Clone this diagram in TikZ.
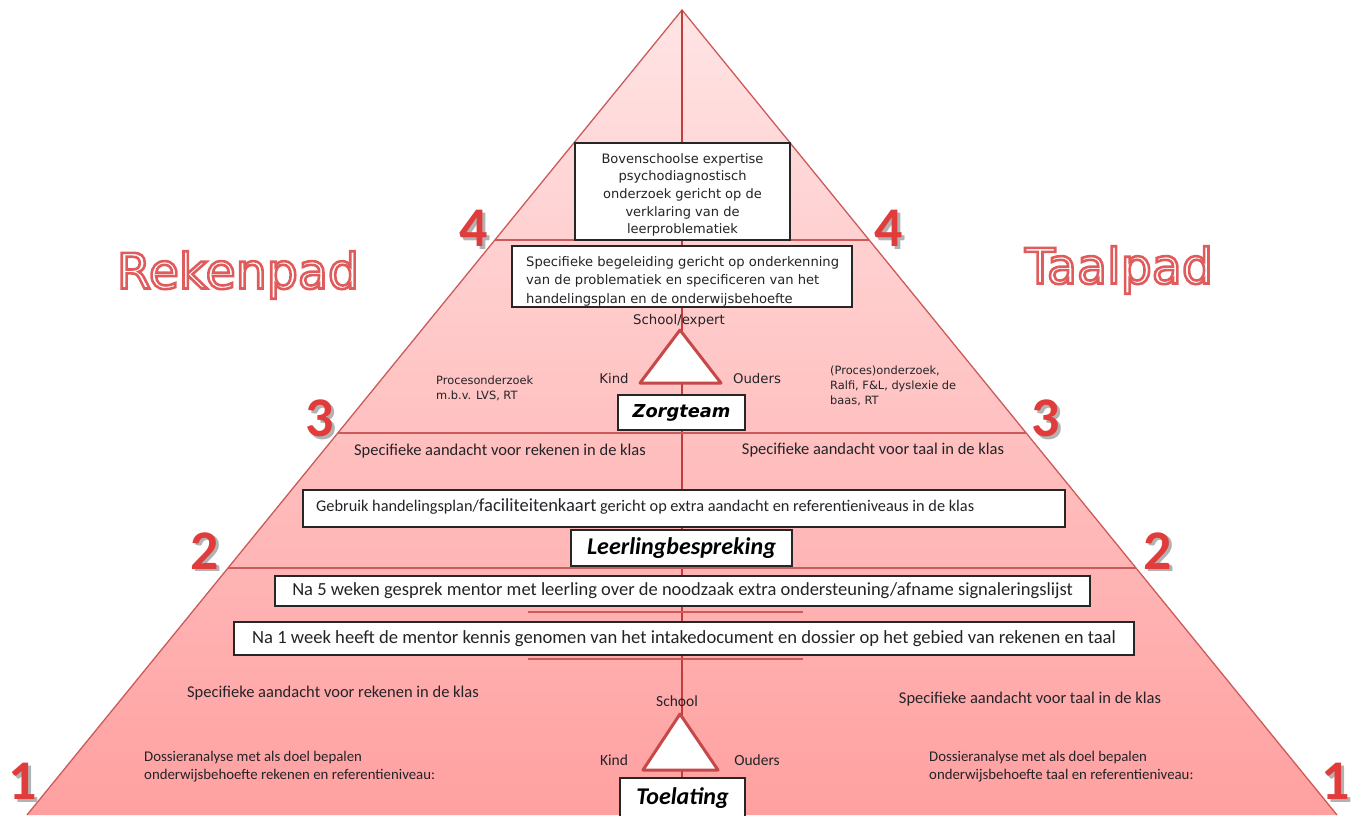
\documentclass[tikz,border=0pt]{standalone}
\usepackage{fontspec}
\setmainfont{DejaVu Sans}
\newfontfamily\calfont{Carlito}
\definecolor{pTop}{RGB}{255,228,228}
\definecolor{pBot}{RGB}{255,160,160}
\definecolor{edgered}{RGB}{205,90,90}
\definecolor{midred}{RGB}{192,62,62}
\definecolor{trired}{RGB}{198,72,72}
\definecolor{numred}{RGB}{224,60,60}
\definecolor{ink}{RGB}{35,35,40}
\newcommand\ringtext[1]{\leavevmode\textcolor{white}{\special{pdf:literal direct 0.88 0.36 0.36 RG 2 Tr 2.6 w}#1\special{pdf:literal direct 0 Tr}}}
\newcommand\bignum[1]{\leavevmode\rlap{\kern2.5pt\raisebox{-2.5pt}{\textcolor{black!30}{#1}}}\textcolor{numred}{#1}}
\begin{document}
\begin{tikzpicture}[x=1pt,y=-1pt,
  box/.style={draw=black!85, line width=1.1pt, fill=white, inner sep=0pt},
  lvl/.style={draw=edgered, line width=1.3pt},
  tri/.style={draw=trired, line width=3pt, fill=white, line join=round},
  lab/.style={inner sep=0pt, text=ink},
  dv/.style={font=\fontsize{13}{17.7}\selectfont},
  dvl/.style={font=\fontsize{13.3}{15}\selectfont},
  cal/.style={font=\calfont\fontsize{16.5}{18}\selectfont},
  num/.style={inner sep=0pt, font=\calfont\bfseries\fontsize{56}{56}\selectfont},
  pad/.style={inner sep=0pt, font=\fontsize{49}{52}\selectfont}]
\useasboundingbox (0,0) rectangle (1357,815);
% pyramid
\coordinate (apex) at (682,10);
\coordinate (bl) at (27,815);
\coordinate (br) at (1337,815);
\coordinate (bm) at (682,815);
\shade[top color=pTop, bottom color=pBot] (apex) -- (br) -- (bl) -- cycle;
\draw[edgered, line width=1.3pt] (bl) -- (apex) -- (br);
\draw[midred, line width=2pt] (apex) -- (bm);
% level lines
\coordinate (l4a) at (495,240); \coordinate (l4b) at (869,240);
\coordinate (l3a) at (338,433); \coordinate (l3b) at (1026,433);
\coordinate (l2a) at (228,568); \coordinate (l2b) at (1136,568);
\draw[lvl] (l4a) -- (l4b);
\draw[lvl] (l3a) -- (l3b);
\draw[lvl] (l2a) -- (l2b);
\coordinate (s1a) at (528,612); \coordinate (s1b) at (803,612);
\coordinate (s2a) at (528,659); \coordinate (s2b) at (803,659);
\draw[lvl, line width=1.5pt] (s1a) -- (s1b);
\draw[lvl, line width=1.5pt] (s2a) -- (s2b);
% level 4
\node[box, minimum width=215pt, minimum height=97pt] (b1) at (682.5,191.5) {};
\node[lab, align=center, dv] (b1t) at (682.5,195)
 {Bovenschoolse expertise\\psychodiagnostisch\\onderzoek gericht op de\\verklaring van de\\leerproblematiek};
\node[box, minimum width=340pt, minimum height=61pt] (b2) at (682,276.5) {};
\node[lab, anchor=west, align=left, font=\fontsize{13.1}{18.5}\selectfont] (b2t) at (526,281)
 {Specifieke begeleiding gericht op onderkenning\\van de problematiek en specificeren van het\\handelingsplan en de onderwijsbehoefte};
% level 3
\node[lab, dvl] (se) at (679,321) {School/expert};
\coordinate (t1a) at (680,330); \coordinate (t1b) at (721,383); \coordinate (t1c) at (640,383);
\draw[tri] (t1a) -- (t1b) -- (t1c) -- cycle;
\node[lab, dvl] (k1) at (614,379) {Kind};
\node[lab, dvl] (o1) at (757,379) {Ouders};
\node[box, minimum width=127pt, minimum height=35pt, font=\bfseries\itshape\fontsize{17.8}{20}\selectfont] (zt) at (681.5,412.5) {Zorgteam};
\node[lab, anchor=north west, align=left, font=\fontsize{11.4}{15}\selectfont] (po) at (436,376) {Procesonderzoek\\m.b.v. LVS, RT};
\node[lab, anchor=north west, align=left, font=\fontsize{11.4}{15}\selectfont] (pt) at (830,366) {(Proces)onderzoek,\\Ralfi, F\&L, dyslexie de\\baas, RT};
% level 2
\node[lab, cal] (r2) at (500,451) {Specifieke aandacht voor rekenen in de klas};
\node[lab, cal] (t2) at (873,450) {Specifieke aandacht voor taal in de klas};
\node[box, minimum width=762pt, minimum height=37pt] (gb) at (684,508.5) {};
\node[lab, anchor=west, font=\calfont\fontsize{16.3}{18}\selectfont] (gbt) at (316,506)
 {Gebruik handelingsplan/{\fontsize{18.5}{18}\selectfont faciliteitenkaart} gericht op extra aandacht en referentieniveaus in de klas};
\node[box, minimum width=221pt, minimum height=36pt, font=\calfont\bfseries\itshape\fontsize{24}{26}\selectfont] (lb) at (681.5,548) {Leerlingbespreking};
% level 1
\node[box, minimum width=815pt, minimum height=30pt, font=\calfont\fontsize{18.5}{20}\selectfont, text=ink] (n5) at (682.5,591)
 {Na 5 weken gesprek mentor met leerling over de noodzaak extra ondersteuning/afname signaleringslijst};
\node[box, minimum width=900pt, minimum height=33pt, font=\calfont\fontsize{18.6}{20}\selectfont, text=ink] (n1) at (684,638.5)
 {Na 1 week heeft de mentor kennis genomen van het intakedocument en dossier op het gebied van rekenen en taal};
\node[lab, cal] (r1) at (333,693) {Specifieke aandacht voor rekenen in de klas};
\node[lab, cal] (tl1) at (1030,699) {Specifieke aandacht voor taal in de klas};
\node[lab, font=\calfont\fontsize{15.5}{18}\selectfont] (sc) at (677,701) {School};
\coordinate (t2a) at (680,714); \coordinate (t2b) at (718,770); \coordinate (t2c) at (643,770);
\draw[tri] (t2a) -- (t2b) -- (t2c) -- cycle;
\node[lab, font=\calfont\fontsize{15.5}{18}\selectfont] (k2) at (614,760) {Kind};
\node[lab, font=\calfont\fontsize{15.5}{18}\selectfont] (o2) at (757,760) {Ouders};
\node[box, minimum width=125pt, minimum height=44pt, font=\calfont\bfseries\itshape\fontsize{24}{26}\selectfont] (tg) at (682.5,800) {\raisebox{7pt}{Toelating}};
\node[lab, anchor=north west, align=left, font=\calfont\fontsize{14.8}{18}\selectfont] (d1) at (144,751)
 {Dossieranalyse met als doel bepalen\\onderwijsbehoefte rekenen en referentieniveau:};
\node[lab, anchor=north west, align=left, font=\calfont\fontsize{14.8}{18}\selectfont] (d2) at (929,751)
 {Dossieranalyse met als doel bepalen\\onderwijsbehoefte taal en referentieniveau:};
% numbers
\node[num] (n4l) at (474,230) {\bignum{4}};
\node[num] (n4r) at (889,230) {\bignum{4}};
\node[num] (n3l) at (320,420) {\bignum{3}};
\node[num] (n3r) at (1046,420) {\bignum{3}};
\node[num] (n2l) at (205,552) {\bignum{2}};
\node[num] (n2r) at (1158,552) {\bignum{2}};
\node[num] (n1l) at (23,783) {\bignum{1}};
\node[num] (n1r) at (1336,783) {\bignum{1}};
% titles
\node[pad] (rek) at (238,275) {\ringtext{Rekenpad}};
\node[pad] (taal) at (1119,270) {\ringtext{Taalpad}};
\end{tikzpicture}
\end{document}
